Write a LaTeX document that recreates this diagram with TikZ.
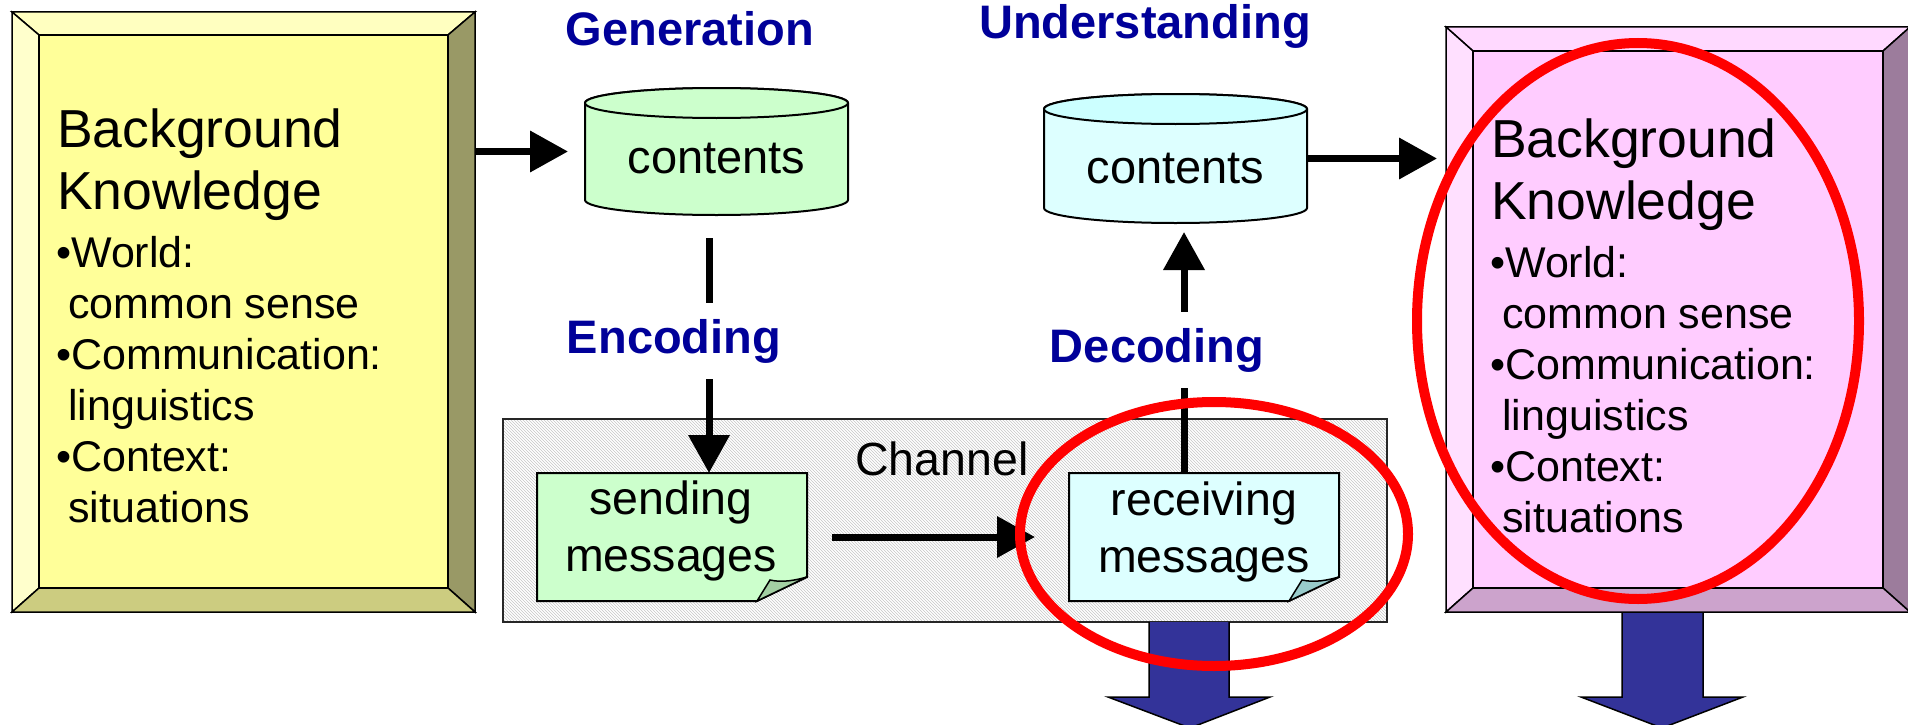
\documentclass[tikz,border=0pt]{standalone}
\usepackage{fontspec}
\setmainfont{Liberation Sans}
\usetikzlibrary{arrows.meta,patterns}
\definecolor{navy}{HTML}{000099}
\definecolor{yface}{HTML}{FFFF99}
\definecolor{ytop}{HTML}{FFFFC0}
\definecolor{yleft}{HTML}{FFFFCC}
\definecolor{yright}{HTML}{999966}
\definecolor{ybot}{HTML}{CCCC80}
\definecolor{pface}{HTML}{FFCCFF}
\definecolor{ptop}{HTML}{FFD9FF}
\definecolor{pleft}{HTML}{FFE0FF}
\definecolor{pright}{HTML}{9C7C9C}
\definecolor{pbot}{HTML}{CCA3CC}
\definecolor{gcyl}{HTML}{CCFFCC}
\definecolor{ccyl}{HTML}{DDFFFF}
\definecolor{ctop}{HTML}{CCFFFF}
\definecolor{gfold}{HTML}{A3CFA3}
\definecolor{cfold}{HTML}{99CCCC}
\definecolor{bluearrow}{HTML}{333399}
\definecolor{redring}{HTML}{FF0000}
\tikzset{
  ghost/.style={inner sep=0pt, outer sep=0pt},
  frame/.style={draw=black, line width=1.5pt},
  shapeline/.style={draw=black, line width=2pt},
  bigarrow/.style={line width=7pt, -{Triangle[length=38pt,width=40pt]}},
  heading/.style={font=\fontsize{47}{56}\selectfont\bfseries, text=navy, inner sep=0pt},
  titletxt/.style={font=\fontsize{53.5}{62}\selectfont, inner sep=0pt, anchor=base west},
  bodytxt/.style={font=\fontsize{43}{50}\selectfont, inner sep=0pt, anchor=base west},
  msgtxt/.style={font=\fontsize{46.5}{57}\selectfont, align=center, inner sep=0pt},
  redline/.style={draw=redring, line width=10pt},
  bluefill/.style={fill=bluearrow},
}
\begin{document}
\begin{tikzpicture}[x=1pt,y=-1pt]
\useasboundingbox (0,0) rectangle (1908,725);

% ---------------- left bevel box ----------------
\node[ghost, minimum width=463pt, minimum height=600pt] (bkL) at (243.5,312) {};
\fill[yface] (39,35) rectangle (448,588);
\filldraw[frame, fill=ytop] (12,12) -- (475,12) -- (448,35) -- (39,35) -- cycle;
\filldraw[frame, fill=yleft] (12,12) -- (39,35) -- (39,588) -- (12,612) -- cycle;
\filldraw[frame, fill=yright] (475,12) -- (475,612) -- (448,588) -- (448,35) -- cycle;
\filldraw[frame, fill=ybot] (12,612) -- (475,612) -- (448,588) -- (39,588) -- cycle;
\draw[frame] (39,35) rectangle (448,588);
\node[titletxt] (lt1) at (57,147) {Background};
\node[titletxt] (lt2) at (57,209) {Knowledge};
\node[bodytxt] (lt3) at (56,267) {•World:};
\node[bodytxt] (lt4) at (68,318) {common sense};
\node[bodytxt] (lt5) at (56,369) {•Communication:};
\node[bodytxt] (lt6) at (68,420) {linguistics};
\node[bodytxt] (lt7) at (56,471) {•Context:};
\node[bodytxt] (lt8) at (68,522) {situations};

% ---------------- right bevel box ----------------
\node[ghost, minimum width=464pt, minimum height=585pt] (bkR) at (1678,319.5) {};
\fill[pface] (1473,51) rectangle (1883,588);
\filldraw[frame, fill=ptop] (1446,27) -- (1910,27) -- (1883,51) -- (1473,51) -- cycle;
\filldraw[frame, fill=pleft] (1446,27) -- (1473,51) -- (1473,588) -- (1446,612) -- cycle;
\filldraw[frame, fill=pright] (1910,27) -- (1910,612) -- (1883,588) -- (1883,51) -- cycle;
\filldraw[frame, fill=pbot] (1446,612) -- (1910,612) -- (1883,588) -- (1473,588) -- cycle;
\draw[frame] (1473,51) rectangle (1883,588);
\node[titletxt] (rt1) at (1491,157) {Background};
\node[titletxt] (rt2) at (1491,219) {Knowledge};
\node[bodytxt] (rt3) at (1490,277) {•World:};
\node[bodytxt] (rt4) at (1502,328) {common sense};
\node[bodytxt] (rt5) at (1490,379) {•Communication:};
\node[bodytxt] (rt6) at (1502,430) {linguistics};
\node[bodytxt] (rt7) at (1490,481) {•Context:};
\node[bodytxt] (rt8) at (1502,532) {situations};

% ---------------- headings ----------------
\node[heading, anchor=base] (gen) at (690,46) {Generation};
\node[heading, anchor=base] (und) at (1145,38) {Understanding};

% ---------------- cylinders ----------------
\node[ghost, minimum width=263pt, minimum height=127pt] (cyl1) at (716.5,151.5) {};
\filldraw[shapeline, fill=gcyl] (585,103) -- (585,200)
  arc[start angle=180, end angle=360, x radius=131.5pt, y radius=15pt]
  -- (848,103)
  arc[start angle=0, end angle=180, x radius=131.5pt, y radius=15pt] -- cycle;
\filldraw[shapeline, fill=gcyl] (716.5,103) ellipse[x radius=131.5pt, y radius=15pt];
\node[font=\fontsize{47}{55}\selectfont, inner sep=0pt, anchor=base] (c1txt) at (716.5,173) {contents};

\node[ghost, minimum width=263pt, minimum height=129pt] (cyl2) at (1175.5,158.5) {};
\filldraw[shapeline, fill=ccyl] (1044,109) -- (1044,208)
  arc[start angle=180, end angle=360, x radius=131.5pt, y radius=15pt]
  -- (1307,109)
  arc[start angle=0, end angle=180, x radius=131.5pt, y radius=15pt] -- cycle;
\filldraw[shapeline, fill=ctop] (1175.5,109) ellipse[x radius=131.5pt, y radius=15pt];
\node[font=\fontsize{47}{55}\selectfont, inner sep=0pt, anchor=base] (c2txt) at (1175.5,183) {contents};

% ---------------- channel ----------------
\node[ghost, minimum width=884pt, minimum height=203pt] (chan) at (945,520.5) {};
\fill[white] (503,419) rectangle (1387,622);
\fill[pattern=north west lines, pattern color=gray!45] (503,419) rectangle (1387,622);
\draw[line width=1.5pt, draw=black!85] (503,419) rectangle (1387,622);
\node[anchor=base west, font=\fontsize{46.5}{55}\selectfont, inner sep=0pt] (chanlbl) at (855,475) {Channel};

% ---------------- notes ----------------
\node[ghost, minimum width=270pt, minimum height=128pt] (send) at (672,537) {};
\filldraw[shapeline, fill=gcyl] (537,473) -- (807,473) -- (807,577) -- (757,601) -- (537,601) -- cycle;
\filldraw[line width=1.5pt, draw=black, fill=gfold] (757,601) -- (770,580) .. controls (783,583) and (796,580) .. (807,577) -- cycle;
\node[msgtxt] (sendtxt) at (671,531) {sending\\messages};

\node[ghost, minimum width=270pt, minimum height=128pt] (recv) at (1204,537) {};
\filldraw[shapeline, fill=ccyl] (1069,473) -- (1339,473) -- (1339,577) -- (1289,601) -- (1069,601) -- cycle;
\filldraw[line width=1.5pt, draw=black, fill=cfold] (1289,601) -- (1302,580) .. controls (1315,583) and (1328,580) .. (1339,577) -- cycle;
\node[msgtxt] (recvtxt) at (1204,532) {receiving\\messages};

% ---------------- connectors ----------------
\coordinate (encx) at (709,0);
\coordinate (decx) at (1184,0);
\draw[bigarrow, shorten >=17pt] (bkL.east |- cyl1.west) -- (cyl1.west);
\draw[bigarrow, shorten >=9pt] (cyl2.east) -- (cyl2.east -| bkR.west);
\draw[bigarrow, shorten <=23pt] (cyl1.south -| encx) -- (send.north -| encx);
\draw[bigarrow, shorten >=9pt] (recv.north -| decx) -- (cyl2.south -| decx);
\draw[bigarrow, shorten <=25pt, shorten >=34pt] (send.east) -- (recv.west);

\node[heading, anchor=base, fill=white, inner xsep=2pt, inner ysep=16pt] (enc) at (674,353) {Encoding};
\node[heading, anchor=base, fill=white, inner xsep=2pt, inner ysep=16pt] (dec) at (1157,362) {Decoding};

% ---------------- blue output arrows ----------------
\fill[bluefill] (1149,622) -- (1149,697) -- (1108,697) -- (1190,728) -- (1270,697) -- (1229,697) -- (1229,622) -- cycle;
\draw[frame] (1149,622) -- (1149,697) -- (1108,697) -- (1190,728) -- (1270,697) -- (1229,697) -- (1229,622);
\fill[bluefill] (1622,613) -- (1622,697) -- (1581,697) -- (1662,728) -- (1743,697) -- (1703,697) -- (1703,613) -- cycle;
\draw[frame] (1622,613) -- (1622,697) -- (1581,697) -- (1662,728) -- (1743,697) -- (1703,697) -- (1703,613);

% ---------------- red highlight ellipses ----------------
\draw[redline] (1214,534) ellipse[x radius=194pt, y radius=132pt];
\draw[redline] (1638,321) ellipse[x radius=221pt, y radius=278pt];
\end{tikzpicture}
\end{document}
